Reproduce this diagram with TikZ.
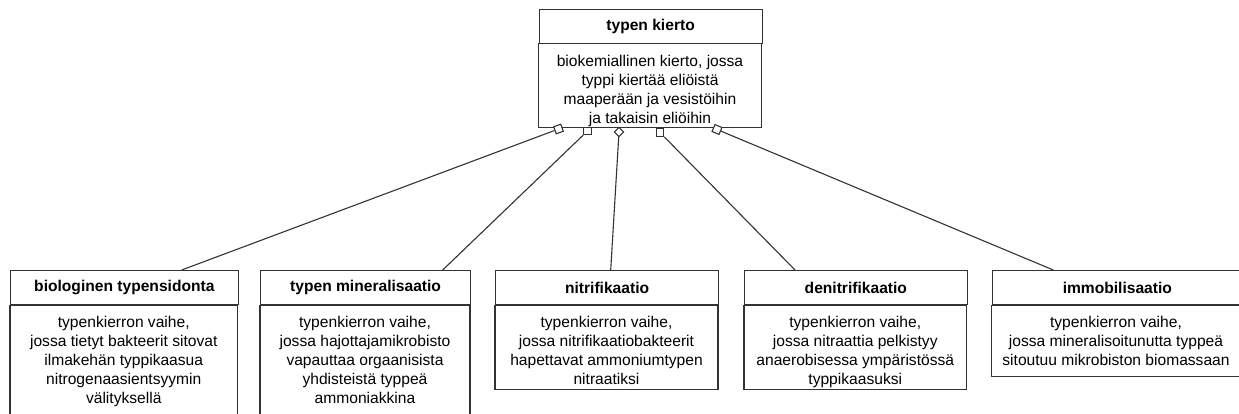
\documentclass[tikz,border=0pt]{standalone}
\usepackage{fontspec}
\setmainfont{Liberation Sans}
\definecolor{edge}{HTML}{333333}
\begin{document}
\begin{tikzpicture}[x=1pt,y=-1pt,
  every node/.style={font=\fontsize{15.6}{19}\selectfont},
  hdr/.style={draw=edge, line width=1.2pt, rectangle, minimum height=34pt, inner sep=0pt, font=\fontsize{15.6}{19}\selectfont\bfseries, anchor=north west},
  bodytext/.style={align=center, inner sep=0pt, anchor=north},
  boxline/.style={draw=edge, line width=1.2pt},
  conn/.style={draw=edge, line width=1.1pt},
  sq/.style={draw=edge, fill=white, line width=1.1pt, rectangle, minimum size=7.5pt, inner sep=0pt}]
\clip (0,0) rectangle (1239,413);
\fill[white] (0,0) rectangle (1239,413);

% top box
\node[hdr, minimum width=223pt] (h0) at (538.5,8.5) {typen kierto};
\draw[boxline] (h0.south west) rectangle ++(223,83.5);
\node[bodytext] (b0) at (650,55) {biokemiallinen kierto, jossa\\typpi kiertää eliöistä\\maaperään ja vesistöihin\\ja takaisin eliöihin};

% box 1
\node[hdr, minimum width=227.5pt] (h1) at (10,270) {biologinen typensidonta};
\draw[boxline] (h1.south west) rectangle ++(227.5,130);
\node[bodytext] (b1) at (123.75,315.5) {typenkierron vaihe,\\jossa tietyt bakteerit sitovat\\ilmakehän typpikaasua\\nitrogenaasientsyymin\\välityksellä};

% box 2
\node[hdr, minimum width=210pt] (h2) at (260,270) {typen mineralisaatio};
\draw[boxline] (h2.south west) rectangle ++(210,130);
\node[bodytext] (b2) at (365,315.5) {typenkierron vaihe,\\jossa hajottajamikrobisto\\vapauttaa orgaanisista\\yhdisteistä typpeä\\ammoniakkina};

% box 3
\node[hdr, minimum width=223pt] (h3) at (495,270) {nitrifikaatio};
\draw[boxline] (h3.south west) rectangle ++(223,84);
\node[bodytext] (b3) at (606.5,315.5) {typenkierron vaihe,\\jossa nitrifikaatiobakteerit\\hapettavat ammoniumtypen\\nitraatiksi};

% box 4
\node[hdr, minimum width=222.5pt] (h4) at (744,270) {denitrifikaatio};
\draw[boxline] (h4.south west) rectangle ++(222.5,84);
\node[bodytext] (b4) at (855.25,315.5) {typenkierron vaihe,\\jossa nitraattia pelkistyy\\anaerobisessa ympäristössä\\typpikaasuksi};

% box 5
\node[hdr, minimum width=250.5pt] (h5) at (991.5,270) {immobilisaatio};
\draw[boxline] (h5.south west) rectangle ++(250.5,71.5);
\node[bodytext] (b5) at (1116,315.5) {typenkierron vaihe,\\jossa mineralisoitunutta typpeä\\sitoutuu mikrobiston biomassaan};

% connector ends on boxes
\coordinate (e1) at (181.7,270);
\coordinate (e2) at (442.7,270);
\coordinate (e3) at (610.7,270);
\coordinate (e4) at (795,270);
\coordinate (e5) at (1053.3,270);

% markers
\node[sq, rotate=20] (m1) at (558.5,129) {};
\node[sq] (m2) at (587.5,131) {};
\node[sq, rotate=45, minimum size=6.5pt] (m3) at (619,132) {};
\node[sq] (m4) at (660,132.5) {};
\node[sq, rotate=-23] (m5) at (717,129.5) {};

\draw[conn] (m1) -- (e1);
\draw[conn] (m2) -- (e2);
\draw[conn] (m3) -- (e3);
\draw[conn] (m4) -- (e4);
\draw[conn] (m5) -- (e5);
\end{tikzpicture}
\end{document}
